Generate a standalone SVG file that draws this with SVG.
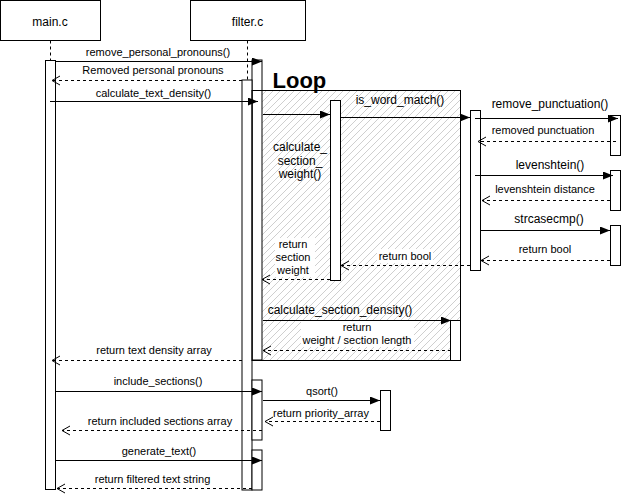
<svg xmlns="http://www.w3.org/2000/svg" width="629" height="500" viewBox="0 0 629 500">
<style>
text{font-family:"Liberation Sans",Arial,sans-serif;fill:#000;text-anchor:middle}
.s11{font-size:11px}
.s12{font-size:12px}
.box{fill:#fff;stroke:#000;stroke-width:1}
.bar{fill:#fff;stroke:#000;stroke-width:1}
.life{fill:none;stroke:#000;stroke-width:1;stroke-dasharray:3 3}
.call{fill:none;stroke:#000;stroke-width:1;marker-end:url(#block)}
.ret{fill:none;stroke:#000;stroke-width:1;stroke-dasharray:3 3;marker-end:url(#open)}
.lbg{fill:#fff;stroke:none}
</style>
<defs>
<marker id="block" markerUnits="userSpaceOnUse" markerWidth="10" markerHeight="8" refX="10" refY="4" orient="auto" viewBox="0 0 10 8">
<path d="M0,0 L10,4 L0,8 Z" fill="#000" stroke="none"/>
</marker>
<marker id="open" markerUnits="userSpaceOnUse" markerWidth="10" markerHeight="11" refX="9" refY="5.5" orient="auto" viewBox="0 0 10 11">
<path d="M1,1 L9,5.5 L1,10" fill="none" stroke="#000" stroke-width="1" stroke-dasharray="none"/>
</marker>
<pattern id="hatch" patternUnits="userSpaceOnUse" width="7" height="7">
<path d="M-1,1 L1,-1 M0,7 L7,0 M6,8 L8,6" stroke="#cfcfcf" stroke-width="1"/>
</pattern>
</defs>

<g id="node-main">
<rect class="box" x="0.5" y="0.5" width="100" height="40"/>
<text class="s12" x="50" y="25.5">main.c</text>
<path class="life" d="M50.5,40.5 V60"/>
</g>
<g id="node-filter">
<rect class="box" x="190.5" y="0.5" width="115" height="40"/>
<text class="s12" x="247.5" y="25.5">filter.c</text>
<path class="life" d="M247.5,40.5 V80"/>
</g>

<g id="loop">
<rect x="262" y="90.5" width="198.5" height="270" fill="url(#hatch)" stroke="none"/>
</g>

<g id="bar-main"><rect class="bar" x="45.5" y="60.5" width="10" height="429"/></g>
<g id="bar-filter-0"><rect class="bar" x="252" y="60" width="10" height="300"/></g>
<g id="bar-filter-1"><rect class="bar" x="242" y="80" width="10" height="410"/></g>
<g id="bar-filter-2"><rect class="bar" x="252" y="380" width="10" height="60"/></g>
<g id="bar-filter-3"><rect class="bar" x="252" y="450" width="10" height="40"/></g>
<g id="bar-weight"><rect class="bar" x="330.5" y="100.5" width="10" height="180"/></g>
<g id="bar-match"><rect class="bar" x="470.5" y="110.5" width="10" height="160"/></g>
<g id="bar-punct"><rect class="bar" x="610.5" y="115.5" width="10" height="40"/></g>
<g id="bar-lev"><rect class="bar" x="610.5" y="170.5" width="10" height="40"/></g>
<g id="bar-strcase"><rect class="bar" x="610.5" y="225.5" width="10" height="40"/></g>
<g id="bar-density"><rect class="bar" x="450.5" y="320.5" width="10" height="40"/></g>
<g id="bar-qsort"><rect class="bar" x="380.5" y="390.5" width="10" height="40"/></g>

<g id="loop-frame">
<rect x="252" y="90.5" width="208.5" height="270" fill="none" stroke="#000" stroke-width="1"/>
<text x="272.5" y="87.5" style="font-size:22px;font-weight:bold;text-anchor:start">Loop</text>
<text class="s12" x="300" y="151">calculate_</text>
<text class="s12" x="300" y="164.5">section_</text>
<text class="s12" x="300" y="177.5">weight()</text>
</g>

<g id="connectors">
<path class="call" d="M55,61.5 H262"/>
<text class="s11" x="158" y="56">remove_personal_pronouns()</text>

<path class="ret" d="M242,80.5 H52"/>
<text class="s11" x="153" y="73.5">Removed personal pronouns</text>

<path class="call" d="M50,101.5 H258"/>
<text class="s11" x="153.5" y="97">calculate_text_density()</text>

<path class="call" d="M263,114.5 H330"/>

<path class="call" d="M340.5,117.5 H470"/>
<text class="s12" x="400" y="104">is_word_match()</text>

<path class="call" d="M475,118.5 H618"/>
<text class="s12" x="550" y="108">remove_punctuation()</text>

<path class="ret" d="M616,141.5 H478"/>
<text class="s11" x="543" y="134">removed punctuation</text>

<path class="call" d="M475,175.5 H613"/>
<text class="s12" x="550" y="169">levenshtein()</text>

<path class="ret" d="M610,200.5 H482"/>
<text class="s11" x="545" y="193">levenshtein distance</text>

<path class="call" d="M480.5,230.5 H610"/>
<text class="s12" x="549" y="222.5">strcasecmp()</text>

<path class="ret" d="M610,260.5 H481"/>
<text class="s11" x="545" y="253">return bool</text>

<path class="ret" d="M470,265.5 H341"/>
<rect class="lbg" x="377" y="249" width="56" height="14"/>
<text class="s11" x="405" y="260">return bool</text>

<path class="ret" d="M330,279.5 H262"/>
<rect class="lbg" x="275" y="238" width="40" height="39"/>
<text class="s11" x="293" y="248">return</text>
<text class="s11" x="293" y="261">section</text>
<text class="s11" x="293" y="274">weight</text>

<path class="call" d="M263,320.5 H451"/>
<text class="s12" x="340" y="313.5">calculate_section_density()</text>

<path class="ret" d="M451,350.5 H263"/>
<rect class="lbg" x="301" y="321" width="113" height="26"/>
<text class="s11" x="357" y="330.5">return</text>
<text class="s11" x="357" y="343.5">weight / section length</text>

<path class="ret" d="M242,360.5 H52"/>
<text class="s11" x="154" y="354">return text density array</text>

<path class="call" d="M55,391.5 H262"/>
<text class="s11" x="158" y="385">include_sections()</text>

<path class="call" d="M263,400.5 H380"/>
<text class="s11" x="322" y="394.5">qsort()</text>

<path class="ret" d="M380,421.5 H265"/>
<text class="s11" x="321" y="416.5">return priority_array</text>

<path class="ret" d="M262,430.5 H62"/>
<text class="s11" x="160" y="424.5">return included sections array</text>

<path class="call" d="M55,460.5 H262"/>
<text class="s11" x="159" y="455">generate_text()</text>

<path class="ret" d="M252,488.5 H57"/>
<text class="s11" x="152.5" y="482.5">return filtered text string</text>
</g>
</svg>
